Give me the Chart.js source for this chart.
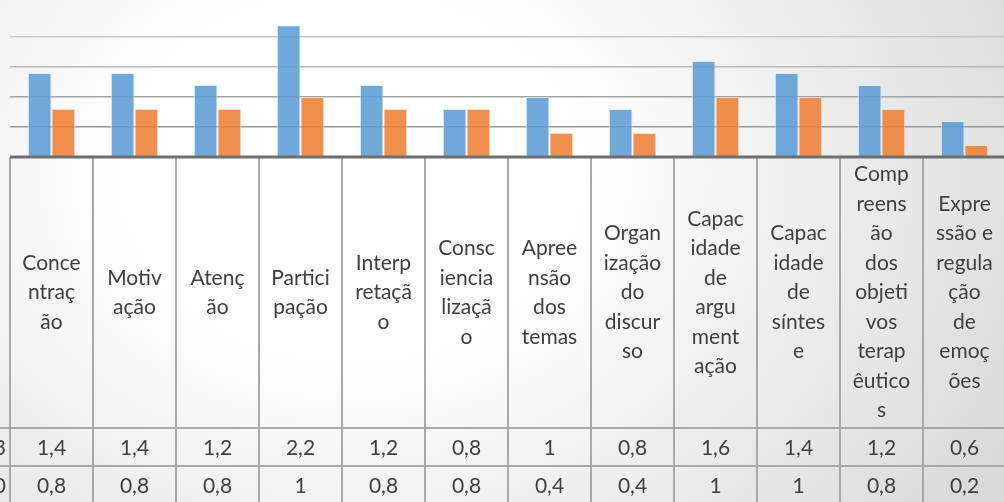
<!DOCTYPE html>
<html>
<head>
<meta charset="utf-8">
<script src="https://cdn.jsdelivr.net/npm/chart.js@4"></script>
<style>
  html, body { margin: 0; padding: 0; overflow: hidden; width: 1004px; height: 502px; }
  body { background: radial-gradient(ellipse 75% 120% at 35% 35%, #ffffff 30%, #d9d9d9 100%); }
  #caixa { position: relative; width: 1012px; height: 502px; }
</style>
</head>
<body>
<div id="caixa"><canvas id="grafico"></canvas></div>
<script>
// categorias (texto quebrado como na tabela de dados)
const categorias = [
    ["Conce", "ntraç", "ão"],
    ["Motiv", "ação"],
    ["Atenç", "ão"],
    ["Partici", "pação"],
    ["Interp", "retaçã", "o"],
    ["Consc", "iencia", "lizaçã", "o"],
    ["Apree", "nsão", "dos", "temas"],
    ["Organ", "ização", "do", "discur", "so"],
    ["Capac", "idade", "de", "argu", "ment", "ação"],
    ["Capac", "idade", "de", "síntes", "e"],
    ["Comp", "reens", "ão", "dos", "objeti", "vos", "terap", "êutico", "s"],
    ["Expre", "ssão e", "regula", "ção", "de", "emoç", "ões"]
];
const serie1 = [1.4, 1.4, 1.2, 2.2, 1.2, 0.8, 1, 0.8, 1.6, 1.4, 1.2, 0.6];
const serie2 = [0.8, 0.8, 0.8, 1, 0.8, 0.8, 0.4, 0.4, 1, 1, 0.8, 0.2];
const rotulosLinhas = ["3", "0"]; // nomes das séries, cortados na borda esquerda

const fonte = '21px Lato';
const corTexto = '#404040';
const corLinha = '#a9a9a9';

function fmt(v) { return String(v).replace('.', ','); }

const tabelaPlugin = {
    id: 'tabela',
    afterDraw(chart) {
        const ctx = chart.ctx;
        const x = chart.scales.x;
        const area = chart.chartArea;
        const base = area.bottom;
        const meio = (x.getPixelForValue(1) - x.getPixelForValue(0)) / 2;
        const yL1 = 428, yL2 = 466, fim = 502;
        ctx.save();
        // linhas verticais
        ctx.strokeStyle = corLinha;
        ctx.lineWidth = 2;
        for (let i = 0; i <= categorias.length; i++) {
            const px = i < categorias.length ? x.getPixelForValue(i) - meio : x.getPixelForValue(i - 1) + meio;
            ctx.beginPath();
            ctx.moveTo(px, base);
            ctx.lineTo(px, fim);
            ctx.stroke();
        }
        // linhas horizontais
        [yL1, yL2].forEach(y => {
            ctx.beginPath();
            ctx.moveTo(0, y);
            ctx.lineTo(area.right, y);
            ctx.stroke();
        });
        // eixo
        ctx.strokeStyle = '#6e6e6e';
        ctx.lineWidth = 3;
        ctx.beginPath();
        ctx.moveTo(area.left, base);
        ctx.lineTo(area.right, base);
        ctx.stroke();

        ctx.fillStyle = corTexto;
        ctx.font = fonte;
        ctx.textAlign = 'center';
        ctx.textBaseline = 'middle';
        const alt = 29.5;
        const centroCab = (base + yL1) / 2;
        categorias.forEach((linhas, i) => {
            const px = x.getPixelForValue(i);
            const y0 = centroCab - (linhas.length - 1) * alt / 2;
            linhas.forEach((t, k) => ctx.fillText(t, px, y0 + k * alt));
            ctx.fillText(fmt(serie1[i]), px, (yL1 + yL2) / 2 + 1);
            ctx.fillText(fmt(serie2[i]), px, (yL2 + fim) / 2 + 2);
        });
        ctx.textAlign = 'right';
        ctx.fillText(rotulosLinhas[0], 6, (yL1 + yL2) / 2 + 1);
        ctx.fillText(rotulosLinhas[1], 6, (yL2 + fim) / 2 + 2);
        ctx.restore();
    }
};

const coresGrade = { 0.5: '#999999', 1: '#a3a3a3', 1.5: '#b8b8b8', 2: '#c8c8c8', 2.5: '#d6d6d6' };

const ctx = document.getElementById('grafico').getContext('2d');
const grafico = new Chart(ctx, {
    type: 'bar',
    data: {
        labels: categorias,
        datasets: [{
            label: 'Série 1',
            data: serie1,
            backgroundColor: 'rgba(91, 155, 213, 0.86)',
            borderColor: 'rgba(220, 235, 248, 0.8)',
            borderWidth: 1,
            barPercentage: 1,
            categoryPercentage: 0.57
        }, {
            label: 'Série 2',
            data: serie2,
            backgroundColor: 'rgba(237, 125, 49, 0.86)',
            borderColor: 'rgba(250, 215, 190, 0.8)',
            borderWidth: 1,
            barPercentage: 1,
            categoryPercentage: 0.57
        }]
    },
    options: {
        responsive: true,
        maintainAspectRatio: false,
        animation: false,
        layout: { padding: { left: 10, right: 6, top: 0, bottom: 345 } },
        plugins: { legend: { display: false }, tooltip: { enabled: false } },
        scales: {
            x: { display: false },
            y: {
                min: 0,
                max: 2.62,
                ticks: { display: false, stepSize: 0.5 },
                border: { display: false },
                afterFit: s => { s.width = 0; },
                grid: {
                    drawTicks: false,
                    lineWidth: 1.5,
                    color: c => coresGrade[c.tick.value] || 'rgba(0,0,0,0)'
                }
            }
        }
    },
    plugins: [tabelaPlugin]
});
</script>
</body>
</html>
